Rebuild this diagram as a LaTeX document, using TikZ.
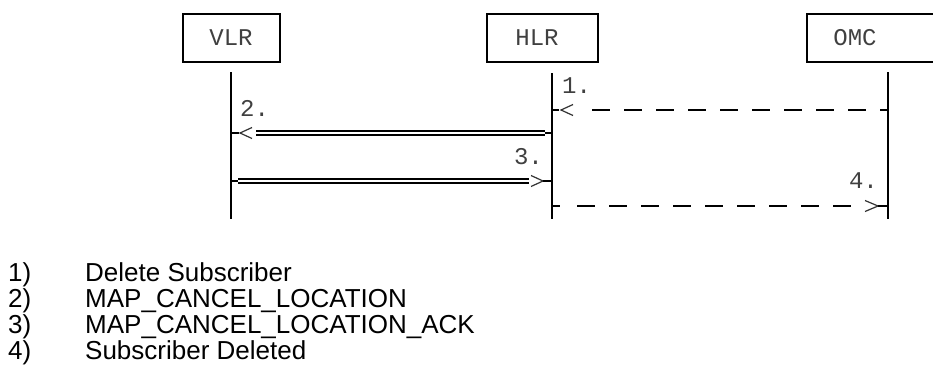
\documentclass[tikz,border=0pt]{standalone}
\usepackage{fontspec}
\setmainfont{Liberation Sans}
\newfontfamily\monof{Liberation Mono}
\usetikzlibrary{calc}
\begin{document}
\begin{tikzpicture}[x=1pt,y=-1pt,
  ent/.style={draw, line width=2.5pt, minimum width=#1, minimum height=48pt, inner sep=0pt},
  mono/.style={inner sep=0pt, font=\monof\fontsize{24}{28}\selectfont, text=black!75},
  life/.style={line width=1.5pt},
  thk/.style={line width=2.9pt},
  stubline/.style={line width=2.5pt},
  chev/.style={line width=1.2pt, black!80, line join=miter},
  dbl/.style={double, line width=1.7pt, double distance=1.7pt},
  dsh/.style={line width=2.6pt, dash pattern=on 18pt off 14pt},
  leg/.style={inner sep=0pt, anchor=base west, font=\fontsize{26}{30}\selectfont}
]
\clip (0,0) rectangle (933,365);
\fill[white] (0,0) rectangle (933,365);

% entity boxes
\node[ent=97pt] (vlr) at (231.5,38) {};
\node[mono] (vlrt) at (231,38) {VLR};
\node[ent=111pt] (hlr) at (542.5,38) {};
\node[mono] (hlrt) at (537,38) {HLR};
\node[ent=170pt] (omc) at (892,38) {};
\node[mono] (omct) at (855,38) {OMC};

% lifelines
\coordinate (vT) at (231,72); \coordinate (vB) at (231,219);
\coordinate (hT) at (552,73); \coordinate (hB) at (552,219);
\coordinate (oT) at (888,72); \coordinate (oB) at (888,219);
\draw[life] (vT) -- (vB);
\draw[life] (hT) -- (hB);
\draw[life] (oT) -- (oB);

% message end points
\coordinate (h1) at (552,110); \coordinate (o1) at (888,110);
\coordinate (v2) at (231,133); \coordinate (h2) at (552,133);
\coordinate (v3) at (231,181); \coordinate (h3) at (552,181);
\coordinate (h4) at (552,206); \coordinate (o4) at (888,206);

% thick lifeline pieces at the message ends
\foreach \p in {h1,o1,v2,h2,v3,h3,h4,o4}
  \draw[thk] ($(\p)+(0,-13)$) -- ($(\p)+(0,13)$);

% 1. OMC -> HLR (dashed)
\draw[stubline] (h1) -- ($(h1)+(7,0)$);
\draw[chev] ($(h1)+(21,-5.5)$) -- ($(h1)+(9,0)$) -- ($(h1)+(21,5.5)$);
\draw[dsh] ($(h1)+(40,0)$) -- (o1);
\node[mono, anchor=base west] (l1) at ($(h1)+(10,-17)$) {1.};

% 2. HLR -> VLR (double)
\draw[stubline] (v2) -- ($(v2)+(8,0)$);
\draw[chev] ($(v2)+(21,-5.5)$) -- ($(v2)+(9,0)$) -- ($(v2)+(21,5.5)$);
\draw[dbl] ($(v2)+(25,0)$) -- ($(h2)+(-7,0)$);
\draw[stubline] ($(h2)+(-7.5,0)$) -- (h2);
\node[mono, anchor=base west] (l2) at ($(v2)+(9,-17)$) {2.};

% 3. VLR -> HLR (double)
\draw[stubline] (v3) -- ($(v3)+(7.5,0)$);
\draw[dbl] ($(v3)+(7,0)$) -- ($(h3)+(-23,0)$);
\draw[chev] ($(h3)+(-21,-5.5)$) -- ($(h3)+(-9,0)$) -- ($(h3)+(-21,5.5)$);
\draw[stubline] ($(h3)+(-9,0)$) -- (h3);
\node[mono, anchor=base east] (l3) at ($(h3)+(-9,-17)$) {3.};

% 4. HLR -> OMC (dashed)
\draw[stubline] (h4) -- ($(h4)+(8,0)$);
\draw[dsh] ($(h4)+(25,0)$) -- ($(o4)+(-37,0)$);
\draw[chev] ($(o4)+(-23,-5.5)$) -- ($(o4)+(-10,0)$) -- ($(o4)+(-23,5.5)$);
\draw[stubline] ($(o4)+(-10,0)$) -- (o4);
\node[mono, anchor=base east] (l4) at ($(o4)+(-10,-18)$) {4.};

% legend
\node[leg] (n1) at (8,281) {1)};
\node[leg] (t1) at (85,281) {Delete Subscriber};
\node[leg] (n2) at (8,307) {2)};
\node[leg] (t2) at (85,307) {MAP\_CANCEL\_LOCATION};
\node[leg] (n3) at (8,333) {3)};
\node[leg] (t3) at (85,333) {MAP\_CANCEL\_LOCATION\_ACK};
\node[leg] (n4) at (8,359) {4)};
\node[leg] (t4) at (85,359) {Subscriber Deleted};
\end{tikzpicture}
\end{document}
